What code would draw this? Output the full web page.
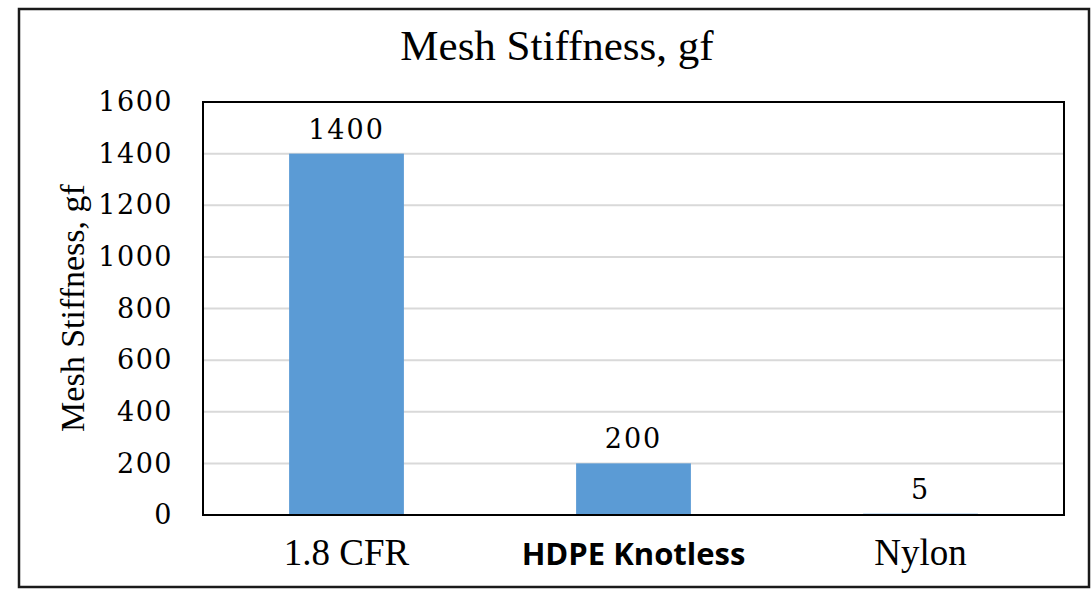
<!DOCTYPE html>
<html>
<head>
<meta charset="utf-8">
<script src="https://cdn.jsdelivr.net/npm/d3@7"></script>
<style>
  body { margin: 0; background: #fff; }
</style>
</head>
<body>
<div id="chart"></div>
<script>
const categories = ['1.8 CFR', 'HDPE Knotless', 'Nylon']
const values = [1400, 200, 5]
const yTicks = [0, 200, 400, 600, 800, 1000, 1200, 1400, 1600]
const boldCategory = 'HDPE Knotless'

const margin = { top: 102, right: 28, bottom: 77, left: 203 }
const W = 1092
const H = 592
const width = W - margin.left - margin.right
const height = H - margin.top - margin.bottom

const root = d3
  .select('#chart')
  .append('svg')
  .attr('width', W)
  .attr('height', H)

// outer frame
root
  .append('rect')
  .attr('x', 19)
  .attr('y', 9)
  .attr('width', 1070)
  .attr('height', 578)
  .attr('fill', 'none')
  .attr('stroke', '#1a1a1a')
  .attr('stroke-width', 2.5)

root
  .append('text')
  .attr('x', 557)
  .attr('y', 60)
  .attr('text-anchor', 'middle')
  .attr('font-family', 'Liberation Serif')
  .attr('font-size', 43)
  .attr('fill', '#000')
  .text('Mesh Stiffness, gf')

const svg = root
  .append('g')
  .attr('transform', `translate(${margin.left}, ${margin.top})`)

const xPositionScale = d3
  .scaleBand()
  .domain(categories)
  .range([0, width])
  .paddingInner(0.6)
  .paddingOuter(0.3)

const yPositionScale = d3
  .scaleLinear()
  .domain([0, 1600])
  .range([height, 0])

// gridlines
svg
  .selectAll('.grid')
  .data(yTicks.filter(d => d > 0 && d < 1600))
  .enter()
  .append('line')
  .attr('class', 'grid')
  .attr('x1', 0)
  .attr('x2', width)
  .attr('y1', d => yPositionScale(d))
  .attr('y2', d => yPositionScale(d))
  .attr('stroke', '#d9d9d9')
  .attr('stroke-width', 2)

svg
  .selectAll('.bar')
  .data(values)
  .enter()
  .append('rect')
  .attr('class', 'bar')
  .attr('x', (d, i) => xPositionScale(categories[i]))
  .attr('y', d => yPositionScale(d))
  .attr('width', xPositionScale.bandwidth())
  .attr('height', d => height - yPositionScale(d))
  .attr('fill', '#5b9bd5')

svg
  .selectAll('.bar-label')
  .data(values)
  .enter()
  .append('text')
  .attr('class', 'bar-label')
  .attr('x', (d, i) => xPositionScale(categories[i]) + xPositionScale.bandwidth() / 2)
  .attr('y', d => yPositionScale(d) - 15)
  .attr('text-anchor', 'middle')
  .attr('font-family', 'DejaVu Serif')
  .attr('font-size', 27)
  .attr('letter-spacing', 2)
  .attr('fill', '#000')
  .text(d => d)

// plot border
svg
  .append('rect')
  .attr('width', width)
  .attr('height', height)
  .attr('fill', 'none')
  .attr('stroke', '#000')
  .attr('stroke-width', 2)

const yAxis = d3
  .axisLeft(yPositionScale)
  .tickValues(yTicks)
  .tickFormat(d3.format('d'))
  .tickSize(0)
  .tickPadding(30)

svg
  .append('g')
  .attr('class', 'axis y-axis')
  .call(yAxis)
  .call(g => g.select('.domain').remove())
  .selectAll('text')
  .attr('font-family', 'DejaVu Serif')
  .attr('font-size', 27)
  .attr('letter-spacing', 1.5)
  .attr('fill', '#000')

const xAxis = d3
  .axisBottom(xPositionScale)
  .tickSize(0)

svg
  .append('g')
  .attr('class', 'axis x-axis')
  .attr('transform', 'translate(0,' + height + ')')
  .call(xAxis)
  .call(g => g.select('.domain').remove())
  .selectAll('text')
  .attr('y', 50)
  .attr('dy', 0)
  .attr('font-family', d => (d === boldCategory ? 'Open Sans' : 'Liberation Serif'))
  .attr('font-weight', d => (d === boldCategory ? 700 : 400))
  .attr('font-size', d => (d === boldCategory ? 31 : 37))
  .attr('fill', '#000')

root
  .append('text')
  .attr('transform', 'translate(84, 308) rotate(-90)')
  .attr('text-anchor', 'middle')
  .attr('font-family', 'Liberation Serif')
  .attr('font-size', 34)
  .attr('fill', '#000')
  .text('Mesh Stiffness, gf')
</script>
</body>
</html>
